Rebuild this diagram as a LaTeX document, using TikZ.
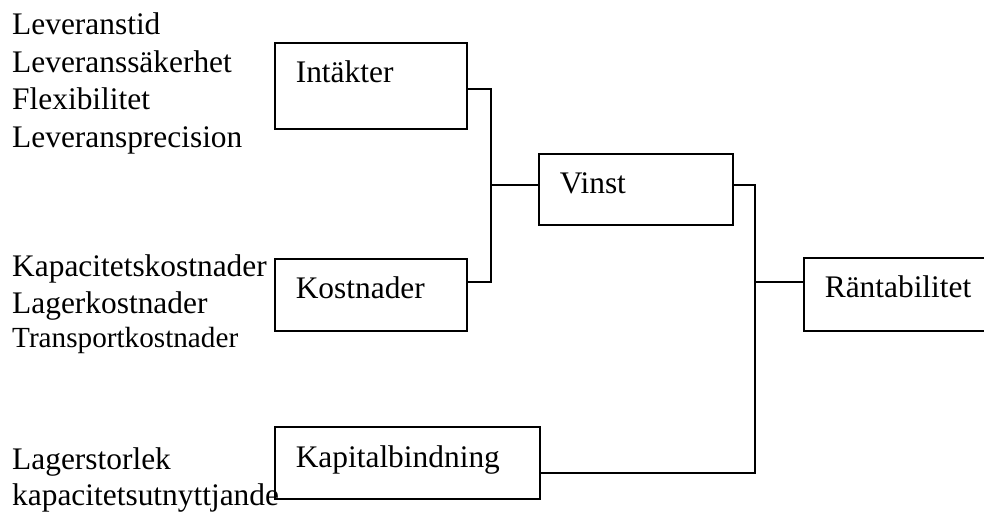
\documentclass[tikz,border=0pt]{standalone}
\usepackage{fontspec}
\setmainfont{Liberation Serif}
\usetikzlibrary{positioning, calc}

\begin{document}
\begin{tikzpicture}[x=1pt, y=-1pt,
		box/.style={draw=black, line width=1.6pt, inner xsep=21pt, inner ysep=0pt, align=left, anchor=north west, font=\fontsize{31.4}{37.5}\selectfont},
		factors/.style={anchor=base west, inner sep=0pt, align=left, font=\fontsize{31.4}{37.5}\selectfont},
		link/.style={line width=1.6pt}]
			\useasboundingbox (0,0) rectangle (984,511);

			% Driving factors on the left (placed by the baseline of their last line)
			\node[factors] (service) at (12,147) {Leveranstid\\Leveranssäkerhet\\Flexibilitet\\Leveransprecision};
			\node[factors] (costs) at (12,347) {Kapacitetskostnader\\Lagerkostnader\\[-4pt]{\fontsize{29.2}{34}\selectfont Transportkostnader}};
			\node[factors] (capital) at (12,505) {Lagerstorlek\\[-1.5pt]kapacitetsutnyttjande};

			% Boxes
			\node[box, text width=150pt, text height=40pt, text depth=46pt] (intakt) at (274,42) {Intäkter};
			\node[box, text width=150pt, text height=40pt, text depth=32pt] (kostn) at (274,258) {Kostnader};
			\node[box, text width=223pt, text height=41pt, text depth=31pt] (kapital) at (274,426) {Kapitalbindning};
			\node[box, text width=152pt, text height=40pt, text depth=31pt] (vinst) at (538,153) {Vinst};
			\node[box, text width=180pt, text height=40pt, text depth=33pt] (rant) at (803,257) {Räntabilitet};

			% Junctions
			\coordinate (fork1) at (491,185);
			\coordinate (fork2) at (755,282);

			% Connectors
			\draw[link] (intakt.east |- 0,89) -| (fork1) -- (vinst.west |- fork1);
			\draw[link] (kostn.east |- 0,282) -| (fork1);
			\draw[link] (vinst.east |- 0,185) -| (fork2) -- (rant.west |- fork2);
			\draw[link] (kapital.east |- 0,473) -| (fork2);
\end{tikzpicture}
\end{document}
